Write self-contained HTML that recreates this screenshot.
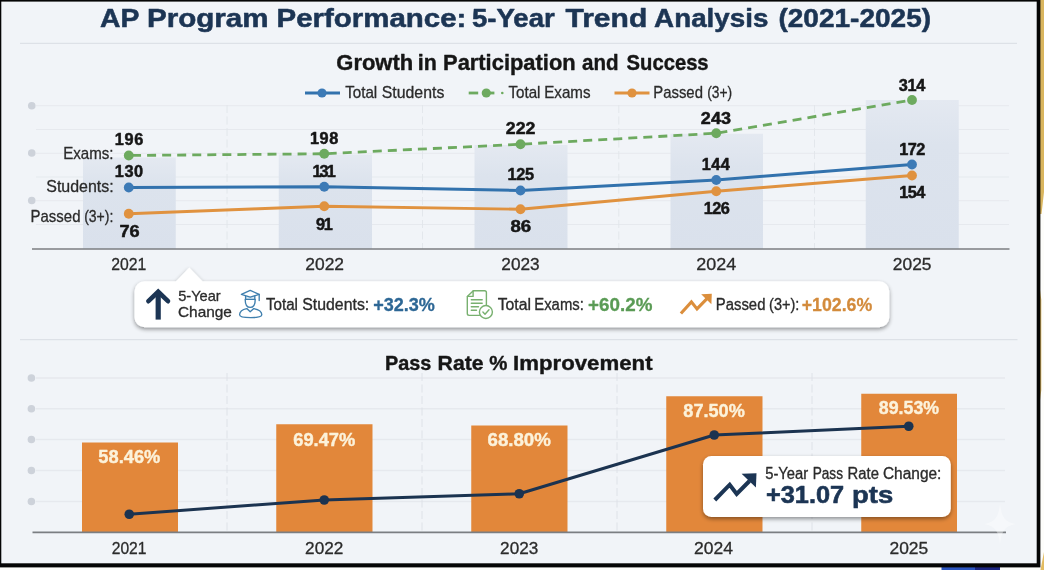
<!DOCTYPE html>
<html lang="en"><head><meta charset="utf-8"><title>AP Program Performance</title>
<style>
html,body{margin:0;padding:0;background:#FDFDFB;}
body{width:1044px;height:570px;overflow:hidden;position:relative;font-family:"Liberation Sans",sans-serif;}
svg{position:absolute;left:-20px;top:-20px;display:block;filter:blur(0.55px);}
svg text{font-family:"Liberation Sans",sans-serif;}
</style></head><body>
<svg width="1084" height="610" viewBox="-20 -20 1084 610">
<defs>
<filter id="sh" x="-10%" y="-30%" width="120%" height="170%"><feGaussianBlur in="SourceAlpha" stdDeviation="2.2"/><feOffset dx="0" dy="2" result="b"/><feComponentTransfer><feFuncA type="linear" slope="0.42"/></feComponentTransfer><feMerge><feMergeNode/><feMergeNode in="SourceGraphic"/></feMerge></filter>
<linearGradient id="lb" x1="0" y1="0" x2="0" y2="1"><stop offset="0" stop-color="#E4E9F1"/><stop offset="0.3" stop-color="#DCE3ED"/><stop offset="1" stop-color="#DAE1EC"/></linearGradient>
</defs>
<rect x="-20" y="-20" width="1084" height="610" fill="#FDFDFB"/>
<polygon points="1040,-20 1064,-20 1064,20 1044,192 1041.5,214 1040,214" fill="#D9B55E"/>
<polygon points="1040,290 1041.3,300 1041.3,390 1040,400" fill="#D9B55E"/>
<polygon points="1044,552 1064,480 1064,590 1036.5,590" fill="#E3BC62"/>
<rect x="941.5" y="567" width="33.5" height="23" fill="#2C55C0"/>
<rect x="975" y="567" width="25" height="23" fill="#1B2480"/>
<rect x="-20" y="-20" width="1060.4" height="587.4" fill="#050505"/>
<rect x="1.3" y="1.6" width="1035.4" height="561.6999999999999" fill="#F1F4F8"/>
<text x="100.09" y="27.40" font-size="26.6" font-weight="bold" fill="#1C3554" textLength="39.37" lengthAdjust="spacingAndGlyphs" stroke="#1C3554" stroke-width="0.55" stroke-linejoin="round">AP</text>
<text x="147.02" y="27.40" font-size="26.6" font-weight="bold" fill="#1C3554" textLength="121.61" lengthAdjust="spacingAndGlyphs" stroke="#1C3554" stroke-width="0.55" stroke-linejoin="round">Program</text>
<text x="276.53" y="27.40" font-size="26.6" font-weight="bold" fill="#1C3554" textLength="189.80" lengthAdjust="spacingAndGlyphs" stroke="#1C3554" stroke-width="0.55" stroke-linejoin="round">Performance:</text>
<text x="471.97" y="27.40" font-size="26.6" font-weight="bold" fill="#1C3554" textLength="82.74" lengthAdjust="spacingAndGlyphs" stroke="#1C3554" stroke-width="0.55" stroke-linejoin="round">5-Year</text>
<text x="565.47" y="27.40" font-size="26.6" font-weight="bold" fill="#1C3554" textLength="81.77" lengthAdjust="spacingAndGlyphs" stroke="#1C3554" stroke-width="0.55" stroke-linejoin="round">Trend</text>
<text x="654.11" y="27.40" font-size="26.6" font-weight="bold" fill="#1C3554" textLength="114.33" lengthAdjust="spacingAndGlyphs" stroke="#1C3554" stroke-width="0.55" stroke-linejoin="round">Analysis</text>
<text x="778.40" y="27.40" font-size="26.6" font-weight="bold" fill="#1C3554" textLength="152.69" lengthAdjust="spacingAndGlyphs" stroke="#1C3554" stroke-width="0.55" stroke-linejoin="round">(2021-2025)</text>
<line x1="20" x2="1017" y1="43.3" y2="43.3" stroke="#DDE1E7" stroke-width="1.3"/>
<text x="336.30" y="70.40" font-size="21.4" font-weight="bold" fill="#161616" textLength="76.86" lengthAdjust="spacingAndGlyphs" stroke="#161616" stroke-width="0.4" stroke-linejoin="round">Growth</text>
<text x="417.71" y="70.40" font-size="21.4" font-weight="bold" fill="#161616" textLength="19.02" lengthAdjust="spacingAndGlyphs" stroke="#161616" stroke-width="0.4" stroke-linejoin="round">in</text>
<text x="443.04" y="70.40" font-size="21.4" font-weight="bold" fill="#161616" textLength="132.62" lengthAdjust="spacingAndGlyphs" stroke="#161616" stroke-width="0.4" stroke-linejoin="round">Participation</text>
<text x="582.10" y="70.40" font-size="21.4" font-weight="bold" fill="#161616" textLength="36.56" lengthAdjust="spacingAndGlyphs" stroke="#161616" stroke-width="0.4" stroke-linejoin="round">and</text>
<text x="626.62" y="70.40" font-size="21.4" font-weight="bold" fill="#161616" textLength="82.01" lengthAdjust="spacingAndGlyphs" stroke="#161616" stroke-width="0.4" stroke-linejoin="round">Success</text>
<line x1="305" x2="340" y1="93" y2="93" stroke="#3272AD" stroke-width="2.8"/><circle cx="322" cy="93" r="4.6" fill="#3C7AB6"/>
<text x="345.18" y="98.40" font-size="16.2" font-weight="normal" fill="#2B2B2B" textLength="32.04" lengthAdjust="spacingAndGlyphs" stroke="#2B2B2B" stroke-width="0.3" stroke-linejoin="round">Total</text>
<text x="381.78" y="98.40" font-size="16.2" font-weight="normal" fill="#2B2B2B" textLength="62.54" lengthAdjust="spacingAndGlyphs" stroke="#2B2B2B" stroke-width="0.3" stroke-linejoin="round">Students</text>
<line x1="468.7" x2="478.2" y1="93" y2="93" stroke="#6DAA5F" stroke-width="2.8"/><line x1="486" x2="494.4" y1="93" y2="93" stroke="#6DAA5F" stroke-width="2.8"/><circle cx="486.3" cy="93" r="4.6" fill="#6DAA5F"/><circle cx="502.3" cy="93" r="1.3" fill="#6DAA5F"/>
<text x="508.43" y="98.40" font-size="16.2" font-weight="normal" fill="#2B2B2B" textLength="32.04" lengthAdjust="spacingAndGlyphs" stroke="#2B2B2B" stroke-width="0.3" stroke-linejoin="round">Total</text>
<text x="544.26" y="98.40" font-size="16.2" font-weight="normal" fill="#2B2B2B" textLength="46.29" lengthAdjust="spacingAndGlyphs" stroke="#2B2B2B" stroke-width="0.3" stroke-linejoin="round">Exams</text>
<line x1="614.5" x2="649.5" y1="93" y2="93" stroke="#E0923F" stroke-width="2.8"/><circle cx="632" cy="93" r="4.6" fill="#E0923F"/>
<text x="653.28" y="98.40" font-size="16.2" font-weight="normal" fill="#2B2B2B" textLength="49.68" lengthAdjust="spacingAndGlyphs" stroke="#2B2B2B" stroke-width="0.3" stroke-linejoin="round">Passed</text>
<text x="707.14" y="98.40" font-size="16.2" font-weight="normal" fill="#2B2B2B" textLength="24.96" lengthAdjust="spacingAndGlyphs" stroke="#2B2B2B" stroke-width="0.3" stroke-linejoin="round">(3+)</text>
<line x1="36" x2="1009" y1="105.75" y2="105.75" stroke="#E6E9EE" stroke-width="1.2"/>
<line x1="36" x2="1009" y1="129.5" y2="129.5" stroke="#E6E9EE" stroke-width="1.2"/>
<line x1="36" x2="1009" y1="153.25" y2="153.25" stroke="#E6E9EE" stroke-width="1.2"/>
<line x1="36" x2="1009" y1="177" y2="177" stroke="#E6E9EE" stroke-width="1.2"/>
<line x1="36" x2="1009" y1="200.75" y2="200.75" stroke="#E6E9EE" stroke-width="1.2"/>
<line x1="36" x2="1009" y1="224.5" y2="224.5" stroke="#E6E9EE" stroke-width="1.2"/>
<line x1="227" x2="227" y1="105" y2="249" stroke="#E1E5EA" stroke-width="0.9" stroke-dasharray="8 3.5"/>
<line x1="422.5" x2="422.5" y1="105" y2="249" stroke="#E1E5EA" stroke-width="0.9" stroke-dasharray="8 3.5"/>
<line x1="618.75" x2="618.75" y1="105" y2="249" stroke="#E1E5EA" stroke-width="0.9" stroke-dasharray="8 3.5"/>
<line x1="814.5" x2="814.5" y1="105" y2="249" stroke="#E1E5EA" stroke-width="0.9" stroke-dasharray="8 3.5"/>
<circle cx="31.75" cy="105.75" r="3.8" fill="#CDD2DA"/>
<circle cx="31.75" cy="153" r="3.8" fill="#CDD2DA"/>
<circle cx="31.75" cy="200.5" r="3.8" fill="#CDD2DA"/>
<rect x="83" y="157.5" width="92.75" height="91.5" fill="url(#lb)"/>
<rect x="278.75" y="154.5" width="93.25" height="94.5" fill="url(#lb)"/>
<rect x="474.5" y="145" width="93.0" height="104" fill="url(#lb)"/>
<rect x="670.5" y="133.75" width="92.5" height="115.25" fill="url(#lb)"/>
<rect x="865.75" y="100" width="93.0" height="149" fill="url(#lb)"/>
<line x1="32" x2="1009.5" y1="249" y2="249" stroke="#7B7E82" stroke-width="1.6"/>
<polyline points="128.75,155.5 324.25,153.75 520.5,144.25 716.25,133.25 912,100" fill="none" stroke="#6DAA5F" stroke-width="2.8" stroke-dasharray="9 6.05" stroke-dashoffset="-3.3"/>
<polyline points="128.75,213.75 324.25,206.25 520.5,209.25 716.25,191.25 912,175.5" fill="none" stroke="#E0923F" stroke-width="2.9" stroke-linejoin="round"/>
<polyline points="128.75,187.5 324.25,186.75 520.5,190.5 716.25,180 912,164.5" fill="none" stroke="#3272AD" stroke-width="3" stroke-linejoin="round"/>
<circle cx="128.75" cy="155.5" r="4.9" fill="#6DAA5F"/>
<circle cx="324.25" cy="153.75" r="4.9" fill="#6DAA5F"/>
<circle cx="520.5" cy="144.25" r="4.9" fill="#6DAA5F"/>
<circle cx="716.25" cy="133.25" r="4.9" fill="#6DAA5F"/>
<circle cx="912" cy="100" r="4.9" fill="#6DAA5F"/>
<circle cx="128.75" cy="213.75" r="4.9" fill="#E0923F"/>
<circle cx="324.25" cy="206.25" r="4.9" fill="#E0923F"/>
<circle cx="520.5" cy="209.25" r="4.9" fill="#E0923F"/>
<circle cx="716.25" cy="191.25" r="4.9" fill="#E0923F"/>
<circle cx="912" cy="175.5" r="4.9" fill="#E0923F"/>
<circle cx="128.75" cy="187.5" r="4.9" fill="#3C7AB6"/>
<circle cx="324.25" cy="186.75" r="4.9" fill="#3C7AB6"/>
<circle cx="520.5" cy="190.5" r="4.9" fill="#3C7AB6"/>
<circle cx="716.25" cy="180" r="4.9" fill="#3C7AB6"/>
<circle cx="912" cy="164.5" r="4.9" fill="#3C7AB6"/>
<text x="63.26" y="159.40" font-size="16.4" font-weight="normal" fill="#2B2B2B" textLength="50.32" lengthAdjust="spacingAndGlyphs" stroke="#2B2B2B" stroke-width="0.3" stroke-linejoin="round">Exams:</text>
<text x="46.28" y="192.10" font-size="16.4" font-weight="normal" fill="#2B2B2B" textLength="67.38" lengthAdjust="spacingAndGlyphs" stroke="#2B2B2B" stroke-width="0.3" stroke-linejoin="round">Students:</text>
<text x="30.52" y="221.90" font-size="16.4" font-weight="normal" fill="#2B2B2B" textLength="49.94" lengthAdjust="spacingAndGlyphs" stroke="#2B2B2B" stroke-width="0.3" stroke-linejoin="round">Passed</text>
<text x="84.13" y="221.90" font-size="16.4" font-weight="normal" fill="#2B2B2B" textLength="29.25" lengthAdjust="spacingAndGlyphs" stroke="#2B2B2B" stroke-width="0.3" stroke-linejoin="round">(3+):</text>
<text x="114.72" y="145.00" font-size="16.3" font-weight="bold" fill="#161616" textLength="28.62" lengthAdjust="spacing" stroke="#161616" stroke-width="0.5" stroke-linejoin="round">196</text>
<text x="114.72" y="177.00" font-size="16.3" font-weight="bold" fill="#161616" textLength="28.45" lengthAdjust="spacing" stroke="#161616" stroke-width="0.5" stroke-linejoin="round">130</text>
<text x="119.47" y="236.75" font-size="16.3" font-weight="bold" fill="#161616" textLength="20.19" lengthAdjust="spacingAndGlyphs" stroke="#161616" stroke-width="0.5" stroke-linejoin="round">76</text>
<text x="309.97" y="143.75" font-size="16.3" font-weight="bold" fill="#161616" textLength="28.28" lengthAdjust="spacing" stroke="#161616" stroke-width="0.5" stroke-linejoin="round">198</text>
<text x="312.47" y="176.75" font-size="16.3" font-weight="bold" fill="#161616" textLength="23.23" lengthAdjust="spacing" stroke="#161616" stroke-width="0.5" stroke-linejoin="round">131</text>
<text x="315.93" y="230.00" font-size="16.3" font-weight="bold" fill="#161616" textLength="16.77" lengthAdjust="spacing" stroke="#161616" stroke-width="0.5" stroke-linejoin="round">91</text>
<text x="505.89" y="133.75" font-size="16.3" font-weight="bold" fill="#161616" textLength="29.57" lengthAdjust="spacingAndGlyphs" stroke="#161616" stroke-width="0.5" stroke-linejoin="round">222</text>
<text x="507.47" y="180.00" font-size="16.3" font-weight="bold" fill="#161616" textLength="26.48" lengthAdjust="spacing" stroke="#161616" stroke-width="0.5" stroke-linejoin="round">125</text>
<text x="510.41" y="232.00" font-size="16.3" font-weight="bold" fill="#161616" textLength="20.77" lengthAdjust="spacingAndGlyphs" stroke="#161616" stroke-width="0.5" stroke-linejoin="round">86</text>
<text x="700.88" y="123.75" font-size="16.3" font-weight="bold" fill="#161616" textLength="30.02" lengthAdjust="spacingAndGlyphs" stroke="#161616" stroke-width="0.5" stroke-linejoin="round">243</text>
<text x="701.72" y="170.00" font-size="16.3" font-weight="bold" fill="#161616" textLength="28.11" lengthAdjust="spacing" stroke="#161616" stroke-width="0.5" stroke-linejoin="round">144</text>
<text x="703.72" y="213.75" font-size="16.3" font-weight="bold" fill="#161616" textLength="26.12" lengthAdjust="spacing" stroke="#161616" stroke-width="0.5" stroke-linejoin="round">126</text>
<text x="898.63" y="90.50" font-size="16.3" font-weight="bold" fill="#161616" textLength="26.71" lengthAdjust="spacing" stroke="#161616" stroke-width="0.5" stroke-linejoin="round">314</text>
<text x="899.22" y="155.00" font-size="16.3" font-weight="bold" fill="#161616" textLength="26.18" lengthAdjust="spacing" stroke="#161616" stroke-width="0.5" stroke-linejoin="round">172</text>
<text x="899.22" y="198.00" font-size="16.3" font-weight="bold" fill="#161616" textLength="26.11" lengthAdjust="spacing" stroke="#161616" stroke-width="0.5" stroke-linejoin="round">154</text>
<text x="111.21" y="270.10" font-size="16.6" font-weight="normal" fill="#2B2B2B" textLength="35.06" lengthAdjust="spacingAndGlyphs" stroke="#2B2B2B" stroke-width="0.3" stroke-linejoin="round">2021</text>
<text x="305.32" y="270.10" font-size="16.6" font-weight="normal" fill="#2B2B2B" textLength="38.75" lengthAdjust="spacingAndGlyphs" stroke="#2B2B2B" stroke-width="0.3" stroke-linejoin="round">2022</text>
<text x="501.33" y="270.10" font-size="16.6" font-weight="normal" fill="#2B2B2B" textLength="38.32" lengthAdjust="spacingAndGlyphs" stroke="#2B2B2B" stroke-width="0.3" stroke-linejoin="round">2023</text>
<text x="696.20" y="270.10" font-size="16.6" font-weight="normal" fill="#2B2B2B" textLength="39.93" lengthAdjust="spacingAndGlyphs" stroke="#2B2B2B" stroke-width="0.3" stroke-linejoin="round">2024</text>
<text x="892.88" y="270.10" font-size="16.6" font-weight="normal" fill="#2B2B2B" textLength="38.60" lengthAdjust="spacingAndGlyphs" stroke="#2B2B2B" stroke-width="0.3" stroke-linejoin="round">2025</text>
<g filter="url(#sh)"><path d="M144.5 281.3 H176 L189.25 267.5 L202.5 281.3 H879.3 a10 10 0 0 1 10 10 V317.3 a10 10 0 0 1 -10 10 H144.5 a10 10 0 0 1 -10 -10 V291.3 a10 10 0 0 1 10 -10 Z" fill="#FFFFFF"/></g>
<path d="M158.2 319.6 V294" stroke="#1C3554" stroke-width="5.2" fill="none"/><path d="M148.4 301.2 L158.2 291.8 L168 301.2" stroke="#1C3554" stroke-width="4.6" fill="none" stroke-linecap="round" stroke-linejoin="miter"/>
<text x="178.18" y="301.00" font-size="14.2" font-weight="normal" fill="#2B2B2B" textLength="42.55" lengthAdjust="spacingAndGlyphs" stroke="#2B2B2B" stroke-width="0.3" stroke-linejoin="round">5-Year</text>
<text x="177.97" y="317.00" font-size="14.2" font-weight="normal" fill="#2B2B2B" textLength="53.97" lengthAdjust="spacingAndGlyphs" stroke="#2B2B2B" stroke-width="0.3" stroke-linejoin="round">Change</text>
<g fill="none" stroke="#3F7FAE" stroke-width="1.35" stroke-linejoin="round" stroke-linecap="round"><path d="M245.6 296 V299.4 H254.8 V296" fill="#DCEBF5"/><path d="M250.2 290.4 L259.2 294.4 L250.2 297.2 L241.4 294.4 Z" fill="#FFFFFF"/><path d="M259.2 294.4 V300.6"/><path d="M245.2 299.4 C245.2 304.5 247.3 307.4 250.2 307.4 C253.1 307.4 255.2 304.5 255.2 299.4"/><path d="M246.8 308.6 C242.5 309.5 239.6 311.5 239.6 314.8 C239.6 318.6 261.8 318.6 261.8 314.8 C261.8 311.5 258.5 309.5 253.8 308.6 L250.2 311.8 Z"/></g>
<text x="265.93" y="309.70" font-size="15.8" font-weight="normal" fill="#2B2B2B" textLength="32.04" lengthAdjust="spacingAndGlyphs" stroke="#2B2B2B" stroke-width="0.33" stroke-linejoin="round">Total</text>
<text x="302.28" y="309.70" font-size="15.8" font-weight="normal" fill="#2B2B2B" textLength="66.97" lengthAdjust="spacingAndGlyphs" stroke="#2B2B2B" stroke-width="0.33" stroke-linejoin="round">Students:</text>
<text x="373.14" y="310.70" font-size="18.8" font-weight="bold" fill="#2D6795" textLength="61.73" lengthAdjust="spacingAndGlyphs" stroke="#2D6795" stroke-width="0.3" stroke-linejoin="round">+32.3%</text>
<g fill="none" stroke="#78B06F" stroke-width="1.4" stroke-linejoin="round" stroke-linecap="round"><path d="M467.3 296.6 L473.3 290.8 H484.6 a1.8 1.8 0 0 1 1.8 1.8 V305 M479.3 315.4 H469.1 a1.8 1.8 0 0 1 -1.8 -1.8 V296.6"/><path d="M467.5 296.4 H473.1 V290.9"/><path d="M471.3 299.7 H482.2 M471.3 303.2 H482.2 M471.3 306.8 H478.5 M471.3 310.3 H476.5"/><circle cx="485.9" cy="312" r="6.5" fill="#FFFFFF"/><path d="M482.9 312.1 L485 314.3 L489 309.8"/></g>
<text x="497.66" y="309.70" font-size="15.8" font-weight="normal" fill="#2B2B2B" textLength="33.34" lengthAdjust="spacingAndGlyphs" stroke="#2B2B2B" stroke-width="0.33" stroke-linejoin="round">Total</text>
<text x="534.28" y="309.70" font-size="15.8" font-weight="normal" fill="#2B2B2B" textLength="49.58" lengthAdjust="spacingAndGlyphs" stroke="#2B2B2B" stroke-width="0.33" stroke-linejoin="round">Exams:</text>
<text x="588.11" y="310.70" font-size="18.8" font-weight="bold" fill="#5A9B55" textLength="64.29" lengthAdjust="spacingAndGlyphs" stroke="#5A9B55" stroke-width="0.3" stroke-linejoin="round">+60.2%</text>
<path d="M680.9 313.5 L691.4 301.9 L697 308.9 L707 298.6" fill="none" stroke="#DB8E3C" stroke-width="3.1" stroke-linejoin="miter"/><polygon points="701.2,294.2 711.8,293.7 711.4,304.2" fill="#DB8E3C"/>
<text x="715.78" y="309.70" font-size="15.8" font-weight="normal" fill="#2B2B2B" textLength="49.68" lengthAdjust="spacingAndGlyphs" stroke="#2B2B2B" stroke-width="0.33" stroke-linejoin="round">Passed</text>
<text x="769.10" y="309.70" font-size="15.8" font-weight="normal" fill="#2B2B2B" textLength="30.22" lengthAdjust="spacingAndGlyphs" stroke="#2B2B2B" stroke-width="0.33" stroke-linejoin="round">(3+):</text>
<text x="801.76" y="310.70" font-size="18.8" font-weight="bold" fill="#D38B3C" textLength="70.51" lengthAdjust="spacingAndGlyphs" stroke="#D38B3C" stroke-width="0.3" stroke-linejoin="round">+102.6%</text>
<line x1="20" x2="1017.5" y1="339.6" y2="339.6" stroke="#DDE1E7" stroke-width="1.3"/>
<text x="385.07" y="369.60" font-size="20.8" font-weight="bold" fill="#161616" textLength="46.34" lengthAdjust="spacingAndGlyphs" stroke="#161616" stroke-width="0.4" stroke-linejoin="round">Pass</text>
<text x="437.58" y="369.60" font-size="20.8" font-weight="bold" fill="#161616" textLength="45.94" lengthAdjust="spacingAndGlyphs" stroke="#161616" stroke-width="0.4" stroke-linejoin="round">Rate</text>
<text x="489.19" y="369.60" font-size="20.8" font-weight="bold" fill="#161616" textLength="18.15" lengthAdjust="spacingAndGlyphs" stroke="#161616" stroke-width="0.4" stroke-linejoin="round">%</text>
<text x="513.01" y="369.60" font-size="20.8" font-weight="bold" fill="#161616" textLength="139.56" lengthAdjust="spacingAndGlyphs" stroke="#161616" stroke-width="0.4" stroke-linejoin="round">Improvement</text>
<line x1="36" x2="1005" y1="378" y2="378" stroke="#E6E9EE" stroke-width="1.3"/>
<circle cx="31.4" cy="378" r="3.8" fill="#CDD2DA"/>
<line x1="36" x2="1005" y1="408.75" y2="408.75" stroke="#E6E9EE" stroke-width="1.3"/>
<circle cx="31.4" cy="408.75" r="3.8" fill="#CDD2DA"/>
<line x1="36" x2="1005" y1="439.5" y2="439.5" stroke="#E6E9EE" stroke-width="1.3"/>
<circle cx="31.4" cy="439.5" r="3.8" fill="#CDD2DA"/>
<line x1="36" x2="1005" y1="470.5" y2="470.5" stroke="#E6E9EE" stroke-width="1.3"/>
<circle cx="31.4" cy="470.5" r="3.8" fill="#CDD2DA"/>
<line x1="36" x2="1005" y1="501.5" y2="501.5" stroke="#E6E9EE" stroke-width="1.3"/>
<circle cx="31.4" cy="501.5" r="3.8" fill="#CDD2DA"/>
<line x1="227" x2="227" y1="373" y2="532" stroke="#DCE0E6" stroke-width="0.9" stroke-dasharray="8 3.5"/>
<line x1="422" x2="422" y1="373" y2="532" stroke="#DCE0E6" stroke-width="0.9" stroke-dasharray="8 3.5"/>
<line x1="617" x2="617" y1="373" y2="532" stroke="#DCE0E6" stroke-width="0.9" stroke-dasharray="8 3.5"/>
<line x1="812" x2="812" y1="373" y2="532" stroke="#DCE0E6" stroke-width="0.9" stroke-dasharray="8 3.5"/>
<rect x="82" y="442.5" width="96" height="90.0" fill="#E2873A"/>
<rect x="276.25" y="424.25" width="96.25" height="108.25" fill="#E2873A"/>
<rect x="471.25" y="425.5" width="96.25" height="107.0" fill="#E2873A"/>
<rect x="666.25" y="396.25" width="96.25" height="136.25" fill="#E2873A"/>
<rect x="861.25" y="393.75" width="95.75" height="138.75" fill="#E2873A"/>
<line x1="32.5" x2="1006" y1="532.4" y2="532.4" stroke="#7B7E82" stroke-width="1.6"/>
<text x="98.39" y="463.20" font-size="17.6" font-weight="bold" fill="#FCF2DA" textLength="61.89" lengthAdjust="spacingAndGlyphs" stroke="#FCF2DA" stroke-width="0.4" stroke-linejoin="round">58.46%</text>
<text x="293.28" y="445.70" font-size="17.6" font-weight="bold" fill="#FCF2DA" textLength="62.00" lengthAdjust="spacingAndGlyphs" stroke="#FCF2DA" stroke-width="0.4" stroke-linejoin="round">69.47%</text>
<text x="487.52" y="446.45" font-size="17.6" font-weight="bold" fill="#FCF2DA" textLength="63.28" lengthAdjust="spacingAndGlyphs" stroke="#FCF2DA" stroke-width="0.4" stroke-linejoin="round">68.80%</text>
<text x="683.38" y="417.20" font-size="17.6" font-weight="bold" fill="#FCF2DA" textLength="61.40" lengthAdjust="spacingAndGlyphs" stroke="#FCF2DA" stroke-width="0.4" stroke-linejoin="round">87.50%</text>
<text x="878.89" y="413.95" font-size="17.6" font-weight="bold" fill="#FCF2DA" textLength="60.13" lengthAdjust="spacingAndGlyphs" stroke="#FCF2DA" stroke-width="0.4" stroke-linejoin="round">89.53%</text>
<polyline points="129.25,514.25 324.25,500 519.25,493.75 714.25,435 908.75,426.25" fill="none" stroke="#1B3350" stroke-width="3" stroke-linejoin="round"/>
<circle cx="129.25" cy="514.25" r="4.8" fill="#1B3350"/>
<circle cx="324.25" cy="500" r="4.8" fill="#1B3350"/>
<circle cx="519.25" cy="493.75" r="4.8" fill="#1B3350"/>
<circle cx="714.25" cy="435" r="4.8" fill="#1B3350"/>
<circle cx="908.75" cy="426.25" r="4.8" fill="#1B3350"/>
<text x="111.71" y="554.10" font-size="16.6" font-weight="normal" fill="#2B2B2B" textLength="34.80" lengthAdjust="spacingAndGlyphs" stroke="#2B2B2B" stroke-width="0.3" stroke-linejoin="round">2021</text>
<text x="305.14" y="554.10" font-size="16.6" font-weight="normal" fill="#2B2B2B" textLength="38.23" lengthAdjust="spacingAndGlyphs" stroke="#2B2B2B" stroke-width="0.3" stroke-linejoin="round">2022</text>
<text x="500.14" y="554.10" font-size="16.6" font-weight="normal" fill="#2B2B2B" textLength="38.11" lengthAdjust="spacingAndGlyphs" stroke="#2B2B2B" stroke-width="0.3" stroke-linejoin="round">2023</text>
<text x="694.12" y="554.10" font-size="16.6" font-weight="normal" fill="#2B2B2B" textLength="38.89" lengthAdjust="spacingAndGlyphs" stroke="#2B2B2B" stroke-width="0.3" stroke-linejoin="round">2024</text>
<text x="889.52" y="554.10" font-size="16.6" font-weight="normal" fill="#2B2B2B" textLength="38.71" lengthAdjust="spacingAndGlyphs" stroke="#2B2B2B" stroke-width="0.3" stroke-linejoin="round">2025</text>
<g filter="url(#sh)"><rect x="703" y="456" width="247.8" height="61" rx="8.5" ry="8.5" fill="#FFFFFF"/></g>
<path d="M714.8 500 L729.7 484.7 L736.7 494 L749.5 481" fill="none" stroke="#1C3554" stroke-width="4" stroke-linejoin="miter"/><polygon points="741.6,473.8 756.5,473.2 755.9,487.5" fill="#1C3554"/>
<text x="765.18" y="478.60" font-size="15.8" font-weight="normal" fill="#2B2B2B" textLength="43.06" lengthAdjust="spacingAndGlyphs" stroke="#2B2B2B" stroke-width="0.33" stroke-linejoin="round">5-Year</text>
<text x="812.63" y="478.60" font-size="15.8" font-weight="normal" fill="#2B2B2B" textLength="30.36" lengthAdjust="spacingAndGlyphs" stroke="#2B2B2B" stroke-width="0.33" stroke-linejoin="round">Pass</text>
<text x="847.53" y="478.60" font-size="15.8" font-weight="normal" fill="#2B2B2B" textLength="31.38" lengthAdjust="spacingAndGlyphs" stroke="#2B2B2B" stroke-width="0.33" stroke-linejoin="round">Rate</text>
<text x="882.96" y="478.60" font-size="15.8" font-weight="normal" fill="#2B2B2B" textLength="58.45" lengthAdjust="spacingAndGlyphs" stroke="#2B2B2B" stroke-width="0.33" stroke-linejoin="round">Change:</text>
<text x="765.94" y="503.00" font-size="24.4" font-weight="bold" fill="#1C3554" textLength="78.18" lengthAdjust="spacingAndGlyphs" stroke="#1C3554" stroke-width="0.6" stroke-linejoin="round">+31.07</text>
<text x="852.09" y="503.00" font-size="24.4" font-weight="bold" fill="#1C3554" textLength="41.13" lengthAdjust="spacingAndGlyphs" stroke="#1C3554" stroke-width="0.6" stroke-linejoin="round">pts</text>
<path d="M1000 506 C1001.2 519 1004 525 1016 527 C1004 529 1001.2 535 1000 548 C998.8 535 996 529 984 527 C996 525 998.8 519 1000 506 Z" fill="#FFFFFF" opacity="0.4" transform="translate(0,-3)"/>
</svg>
</body></html>
